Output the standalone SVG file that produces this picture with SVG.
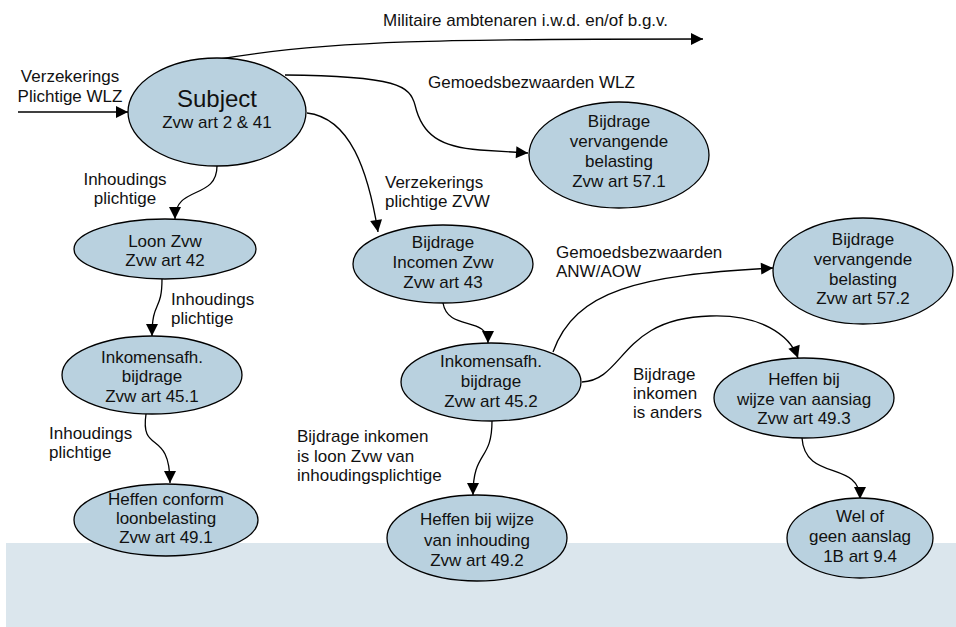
<svg xmlns="http://www.w3.org/2000/svg" width="956" height="627" viewBox="0 0 956 627">
  <style>
    .node ellipse { fill: #b9d1df; stroke: #000; stroke-width: 1.3; }
    .node text { font-family: "Liberation Sans", Arial, sans-serif; font-size: 17px; fill: #111; text-anchor: middle; }
    .node text.big { font-size: 24px; }
    .edge { fill: none; stroke: #000; stroke-width: 1.3; marker-end: url(#arrow); }
    .label { font-family: "Liberation Sans", Arial, sans-serif; font-size: 17px; fill: #111; }
    .mid { text-anchor: middle; }
  </style>
  <defs>
    <marker id="arrow" markerUnits="userSpaceOnUse" markerWidth="15" markerHeight="15" viewBox="0 0 15 15" refX="13" refY="7.5" orient="auto">
      <path d="M1,1.5 L13,7.5 L1,13.5 Z" fill="#000"/>
    </marker>
  </defs>

  <!-- bottom band -->
  <rect x="6" y="543" width="950" height="84" fill="#dbe6ed"/>

  <!-- connectors -->
  <g id="connectors">
    <path class="edge" d="M18,112 L128,112"/>
    <path class="edge" d="M220,59 C330,40 450,39 703,39"/>
    <path class="edge" d="M285,75 C398,76 410,86 415,105 C422,135 440,147 480,150 L528,153"/>
    <path class="edge" d="M307,113 C350,118 368,170 378,232"/>
    <path class="edge" d="M217,166 C217,200 175,185 175,219"/>
    <path class="edge" d="M162,279 C162,312 152,300 152,336"/>
    <path class="edge" d="M146,414 C140,455 170,428 170,483"/>
    <path class="edge" d="M443,303 C448,332 488,315 488,343"/>
    <path class="edge" d="M553,352 C575,290 640,275 773,268"/>
    <path class="edge" d="M582,382 C625,380 620,318 710,316 C760,314 790,335 798,358"/>
    <path class="edge" d="M492,421 C492,462 473,450 473,495"/>
    <path class="edge" d="M802,438 C805,482 860,460 860,499"/>

    <text class="label mid" x="70" y="82">Verzekerings</text>
    <text class="label mid" x="70" y="102">Plichtige WLZ</text>
    <text class="label" x="383" y="26">Militaire ambtenaren i.w.d. en/of b.g.v.</text>
    <text class="label" x="428" y="88">Gemoedsbezwaarden WLZ</text>
    <text class="label mid" x="125" y="185">Inhoudings</text>
    <text class="label mid" x="125" y="204">plichtige</text>
    <text class="label" x="385" y="188">Verzekerings</text>
    <text class="label" x="385" y="207">plichtige ZVW</text>
    <text class="label" x="171" y="305">Inhoudings</text>
    <text class="label" x="171" y="324">plichtige</text>
    <text class="label" x="556" y="258">Gemoedsbezwaarden</text>
    <text class="label" x="556" y="277">ANW/AOW</text>
    <text class="label" x="633" y="380">Bijdrage</text>
    <text class="label" x="633" y="399">inkomen</text>
    <text class="label" x="633" y="418">is anders</text>
    <text class="label" x="49" y="439">Inhoudings</text>
    <text class="label" x="49" y="458">plichtige</text>
    <text class="label" x="297" y="442">Bijdrage inkomen</text>
    <text class="label" x="297" y="462">is loon Zvw van</text>
    <text class="label" x="297" y="481">inhoudingsplichtige</text>
  </g>

  <!-- nodes -->
  <g id="subject" class="node">
    <ellipse cx="217" cy="112" rx="89" ry="54"/>
    <text class="big" x="217" y="107">Subject</text>
    <text x="217" y="128">Zvw art 2 &amp; 41</text>
  </g>
  <g id="vervangend-57-1" class="node">
    <ellipse cx="619" cy="155" rx="90" ry="53"/>
    <text x="619" y="127">Bijdrage</text>
    <text x="619" y="147">vervangende</text>
    <text x="619" y="167">belasting</text>
    <text x="619" y="187">Zvw art 57.1</text>
  </g>
  <g id="loon-zvw" class="node">
    <ellipse cx="165" cy="249" rx="91" ry="30"/>
    <text x="165" y="247">Loon Zvw</text>
    <text x="165" y="266">Zvw art 42</text>
  </g>
  <g id="bijdrage-inkomen" class="node">
    <ellipse cx="443" cy="264" rx="90" ry="39"/>
    <text x="443" y="248">Bijdrage</text>
    <text x="443" y="268">Incomen Zvw</text>
    <text x="443" y="288">Zvw art 43</text>
  </g>
  <g id="vervangend-57-2" class="node">
    <ellipse cx="863" cy="271" rx="90" ry="53"/>
    <text x="863" y="245">Bijdrage</text>
    <text x="863" y="265">vervangende</text>
    <text x="863" y="285">belasting</text>
    <text x="863" y="304">Zvw art 57.2</text>
  </g>
  <g id="inkomensafh-45-1" class="node">
    <ellipse cx="152" cy="375" rx="90" ry="39"/>
    <text x="152" y="363">Inkomensafh.</text>
    <text x="152" y="382">bijdrage</text>
    <text x="152" y="402">Zvw art 45.1</text>
  </g>
  <g id="inkomensafh-45-2" class="node">
    <ellipse cx="491" cy="382" rx="90" ry="39"/>
    <text x="491" y="367">Inkomensafh.</text>
    <text x="491" y="387">bijdrage</text>
    <text x="491" y="407">Zvw art 45.2</text>
  </g>
  <g id="heffen-aanslag" class="node">
    <ellipse cx="804" cy="398" rx="90" ry="40"/>
    <text x="804" y="385">Heffen bij</text>
    <text x="804" y="405">wijze van aansiag</text>
    <text x="804" y="424">Zvw art 49.3</text>
  </g>
  <g id="heffen-loonbelasting" class="node">
    <ellipse cx="166" cy="520" rx="92" ry="36"/>
    <text x="166" y="505">Heffen conform</text>
    <text x="166" y="524">loonbelasting</text>
    <text x="166" y="543">Zvw art 49.1</text>
  </g>
  <g id="heffen-inhouding" class="node">
    <ellipse cx="477" cy="538" rx="90" ry="43"/>
    <text x="477" y="525">Heffen bij wijze</text>
    <text x="477" y="546">van inhouding</text>
    <text x="477" y="566">Zvw art 49.2</text>
  </g>
  <g id="wel-of-geen" class="node">
    <ellipse cx="860" cy="538" rx="73" ry="40"/>
    <text x="860" y="522">Wel of</text>
    <text x="860" y="542">geen aanslag</text>
    <text x="860" y="562">1B art 9.4</text>
  </g>
</svg>
